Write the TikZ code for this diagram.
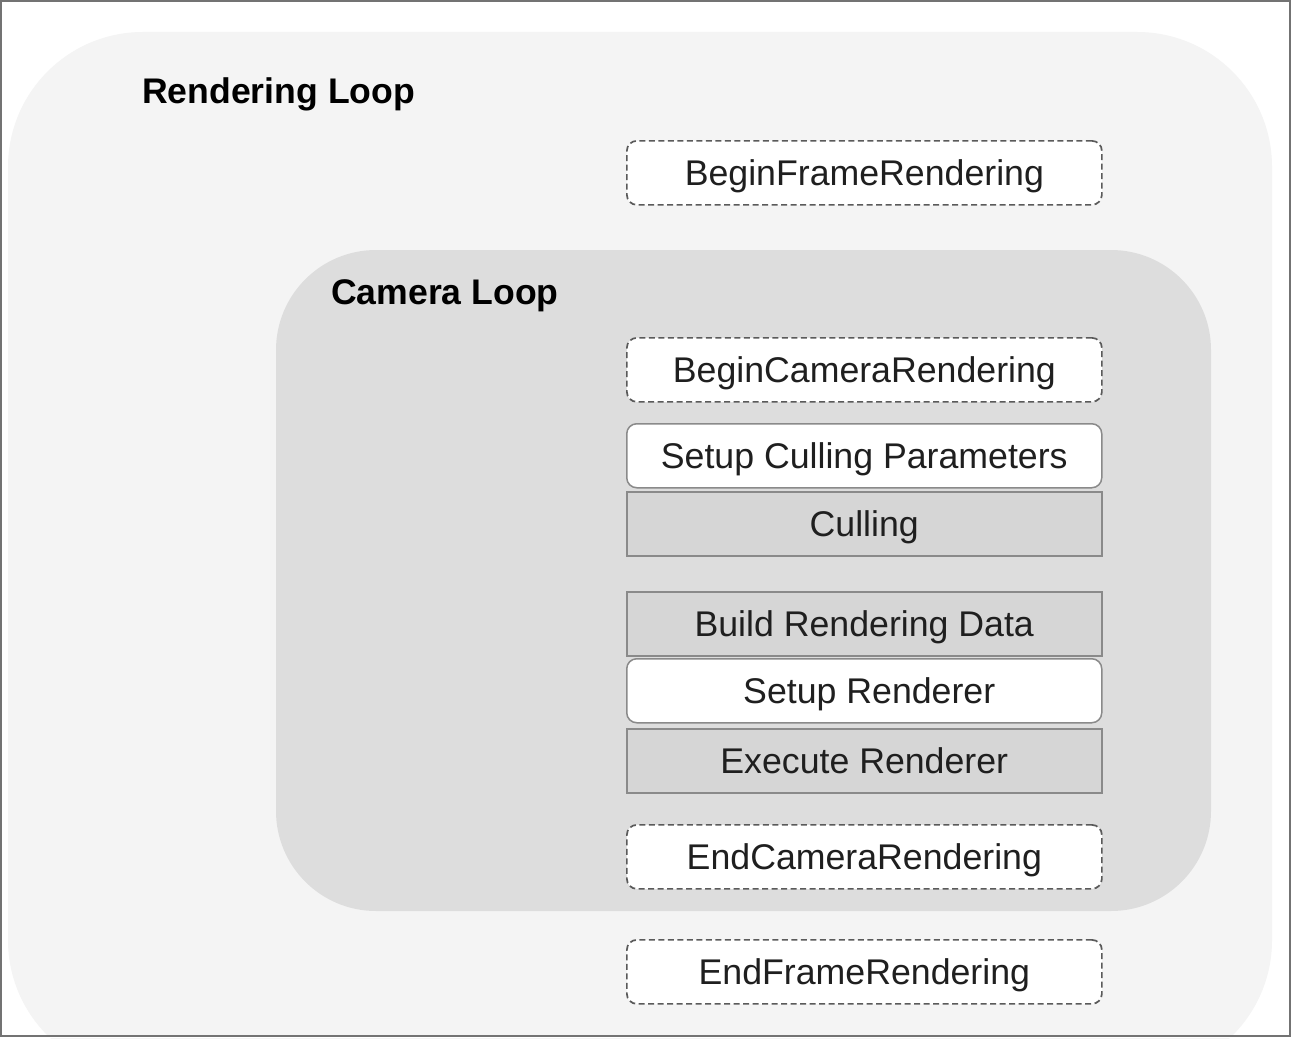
\documentclass[tikz,border=0pt]{standalone}
\usepackage{fontspec}
\setmainfont{Liberation Sans}
\definecolor{outerfill}{HTML}{F4F4F4}
\definecolor{camfill}{HTML}{DDDDDD}
\definecolor{boxgray}{HTML}{D6D6D6}
\definecolor{edgegray}{HTML}{8A8A8A}
\definecolor{dashgray}{HTML}{5A5A5A}
\begin{document}
\begin{tikzpicture}[x=1pt,y=-1pt,
  txt/.style={font=\fontsize{35.7}{42}\selectfont, text=black!88},
  ttl/.style={font=\fontsize{35.6}{42}\selectfont\bfseries, text=black, anchor=west, inner sep=0pt},
  stepbase/.style={txt, minimum width=475pt, minimum height=64pt, inner sep=0pt, text height=33pt, text depth=7.5pt, anchor=north west},
  dashbox/.style={stepbase, fill=white, draw=dashgray, line width=1.7pt, dash pattern=on 6pt off 3.5pt, rounded corners=10pt},
  whitebox/.style={stepbase, fill=white, draw=edgegray, line width=1.5pt, rounded corners=10pt},
  graybox/.style={stepbase, fill=boxgray, draw=edgegray, line width=1.5pt},
]
\useasboundingbox (0,0) rectangle (1292,1038);
\fill[white] (0,0) rectangle (1292,1038);
% outer loop
\fill[outerfill, rounded corners=135pt] (8,32) rectangle (1272,1075);
\fill[white] (0,1036) rectangle (1292,1038);
% camera loop
\fill[camfill, rounded corners=100pt] (276,250) rectangle (1211,911);
% frame
\draw[draw=black!55, line width=1.5pt] (1,1) rectangle (1290,1036);
% titles
\node[ttl] (rl) at (142,94) {Rendering Loop};
\node[ttl] (cl) at (331,296) {Camera Loop};
% steps
\node[dashbox]  (bfr) at (626,140) {BeginFrameRendering};
\node[dashbox]  (bcr) at (626,337) {BeginCameraRendering};
\node[whitebox] (scp) at (626,423) {Setup Culling Parameters};
\node[graybox]  (cul) at (626,491) {Culling};
\node[graybox]  (brd) at (626,591) {Build Rendering Data};
\node[whitebox] (sr)  at (626,658) {\hspace*{10pt}Setup Renderer};
\node[graybox]  (er)  at (626,728) {Execute Renderer};
\node[dashbox]  (ecr) at (626,824) {EndCameraRendering};
\node[dashbox]  (efr) at (626,939) {EndFrameRendering};
\end{tikzpicture}
\end{document}
